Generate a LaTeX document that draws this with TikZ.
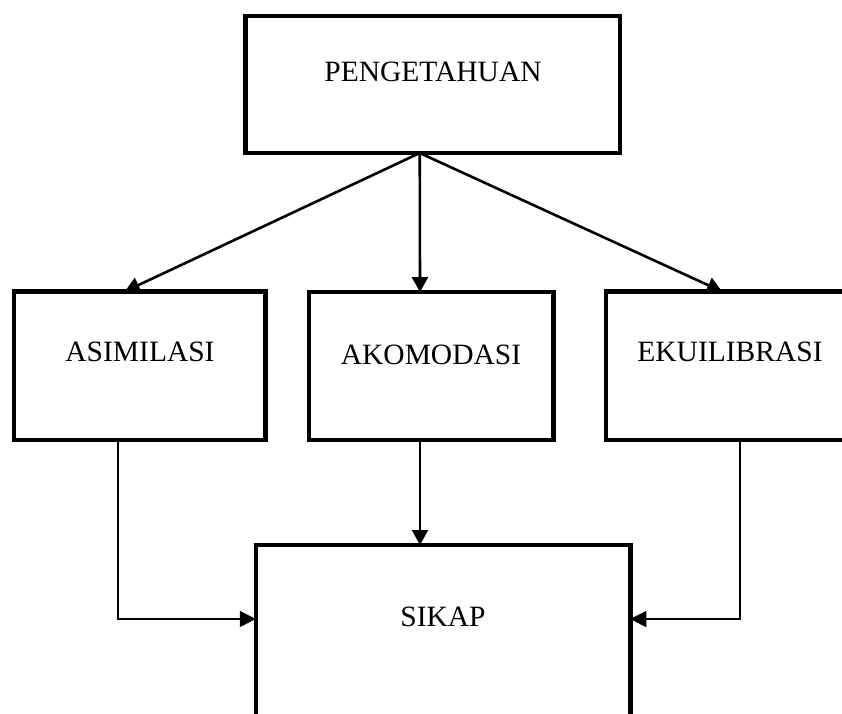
\documentclass[tikz,border=0pt]{standalone}
\usepackage{fontspec}
\setmainfont{Liberation Serif}
\usetikzlibrary{arrows.meta,calc}
\begin{document}
\begin{tikzpicture}[x=1pt,y=-1pt,line join=miter,font=\fontsize{29.5}{34}\selectfont,
	box/.style={draw,line width=4.5pt,outer sep=0pt,inner sep=0pt},
	lbl/.style={inner sep=0pt},
	arr/.style={line width=2.6pt,-{Triangle[length=15pt,width=16pt]}},
	link/.style={line width=1.5pt,-{Triangle[length=16pt,width=16pt]}}]
	\clip(0,0)rectangle(842,713);
	% boxes
	\node[box,minimum width=374.5pt,minimum height=137pt](peng)at(432.75,84.5){};
	\node[box,minimum width=251.5pt,minimum height=148.5pt](asim)at(139.75,365.75){};
	\node[box,minimum width=244.5pt,minimum height=148pt](akom)at(431,366){};
	\node[box,minimum width=248pt,minimum height=148.5pt](ekui)at(730,365.75){};
	\node[box,minimum width=374.5pt,minimum height=215pt](sikap)at(443,652.5){};
	% texts
	\node[lbl](tpeng)at(433,72){PENGETAHUAN};
	\node[lbl](tasim)at(140,352){ASIMILASI};
	\node[lbl](takom)at(431,355){AKOMODASI};
	\node[lbl](tekui)at(730,352){EKUILIBRASI};
	\node[lbl](tsikap)at(443,617){SIKAP};
	% connectors
	\coordinate(apex)at([xshift=-13pt]peng.south);
	\draw[arr](apex)--([xshift=-15pt]asim.north);
	\draw[arr](apex)--([xshift=-11pt]akom.north);
	\draw[arr](apex)--([xshift=-8pt]ekui.north);
	\draw[link,line width=2pt,-{Triangle[length=15pt,width=16pt]}]([xshift=-11pt]akom.south)--([xshift=-23pt]sikap.north);
	\draw[link]([xshift=-22pt]asim.south)|-([yshift=33.5pt]sikap.west);
	\draw[link]([xshift=10pt]ekui.south)|-([yshift=33.5pt]sikap.east);
\end{tikzpicture}
\end{document}
